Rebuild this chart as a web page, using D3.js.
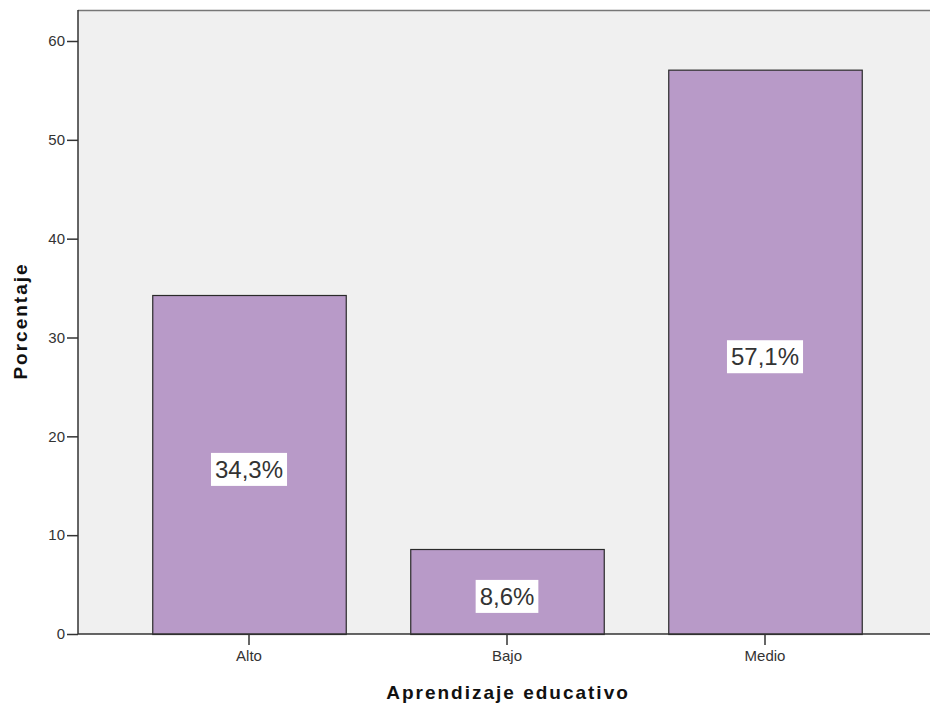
<!DOCTYPE html>
<html><head><meta charset="utf-8">
<script src="https://cdn.jsdelivr.net/npm/d3@7"></script>
<style>body{margin:0;background:#fff;}svg{display:block;font-family:"Liberation Sans",Arial,sans-serif;}</style>
</head><body>
<svg id="c" width="930" height="708"></svg>
<script>
const categories = ["Alto", "Bajo", "Medio"];
const values = [34.3, 8.6, 57.1];
const labels = ["34,3%", "8,6%", "57,1%"];
const yTicks = [0, 10, 20, 30, 40, 50, 60];

(function() {
const svg = d3.select("#c");
const pL = 78, pT = 10, pR = 932, pB = 634;
const y = d3.scaleLinear().domain([0, 60]).range([pB, 41]);
const x = d3.scaleBand().domain(categories).range([120, 894]).paddingInner(0.25).paddingOuter(0.125);

svg.append("rect").attr("x", pL).attr("y", pT).attr("width", pR - pL).attr("height", pB - pT)
  .attr("fill", "#f0f0f0").attr("stroke", "none");
svg.append("line").attr("x1", pL).attr("x2", pR).attr("y1", pT + 0.5).attr("y2", pT + 0.5)
  .attr("stroke", "#777").attr("stroke-width", 1.5);

svg.selectAll("rect.bar").data(values).join("rect").attr("class", "bar")
  .attr("x", (d, i) => x(categories[i]) + 0.5)
  .attr("y", d => y(d) + 0.5)
  .attr("width", x.bandwidth())
  .attr("height", d => pB - y(d))
  .attr("fill", "#b89ac8").attr("stroke", "#2a2a2a").attr("stroke-width", 1.2);

const lg = svg.selectAll("g.lbl").data(values).join("g").attr("class", "lbl")
  .attr("transform", (d, i) => `translate(${x(categories[i]) + x.bandwidth() / 2},${(y(d) + pB) / 2 + 5})`);
lg.each(function(d, i) {
  const g = d3.select(this);
  const t = g.append("text").attr("text-anchor", "middle").attr("dy", "0.35em")
    .attr("font-size", 24).attr("fill", "#333").text(labels[i]);
  const bb = t.node().getBBox();
  g.insert("rect", "text").attr("x", bb.x - 4).attr("y", bb.y - 3).attr("width", bb.width + 8).attr("height", bb.height + 6)
    .attr("fill", "#fff");
});

const ya = svg.append("g").attr("transform", `translate(${pL},0)`)
  .call(d3.axisLeft(y).tickValues(yTicks).tickSize(11).tickPadding(2).tickFormat(d3.format("d")));
ya.select(".domain").attr("stroke", "#333").attr("stroke-width", 1.5).attr("d", `M0,${pT}V${pB}`);
ya.selectAll(".tick line").attr("stroke", "#333").attr("stroke-width", 1.5);
ya.selectAll(".tick text").attr("font-size", 15).attr("fill", "#333").attr("font-family", "Liberation Sans, Arial, sans-serif");

const xa = svg.append("g").attr("transform", `translate(0,${pB})`)
  .call(d3.axisBottom(x).tickSize(11).tickPadding(5));
xa.select(".domain").attr("stroke", "#333").attr("stroke-width", 1.5).attr("d", `M${pL},0H${pR}`);
xa.selectAll(".tick line").attr("stroke", "#333").attr("stroke-width", 1.5);
xa.selectAll(".tick text").attr("font-size", 15).attr("fill", "#333").attr("font-family", "Liberation Sans, Arial, sans-serif");

svg.append("text").attr("transform", `translate(27,321) rotate(-90)`).attr("text-anchor", "middle")
  .attr("font-size", 19).attr("font-weight", "bold").attr("fill", "#111").attr("letter-spacing", 2).text("Porcentaje");
svg.append("text").attr("x", 508).attr("y", 699).attr("text-anchor", "middle")
  .attr("font-size", 19).attr("font-weight", "bold").attr("fill", "#111").attr("letter-spacing", 2).text("Aprendizaje educativo");
})();
</script>
</body></html>
